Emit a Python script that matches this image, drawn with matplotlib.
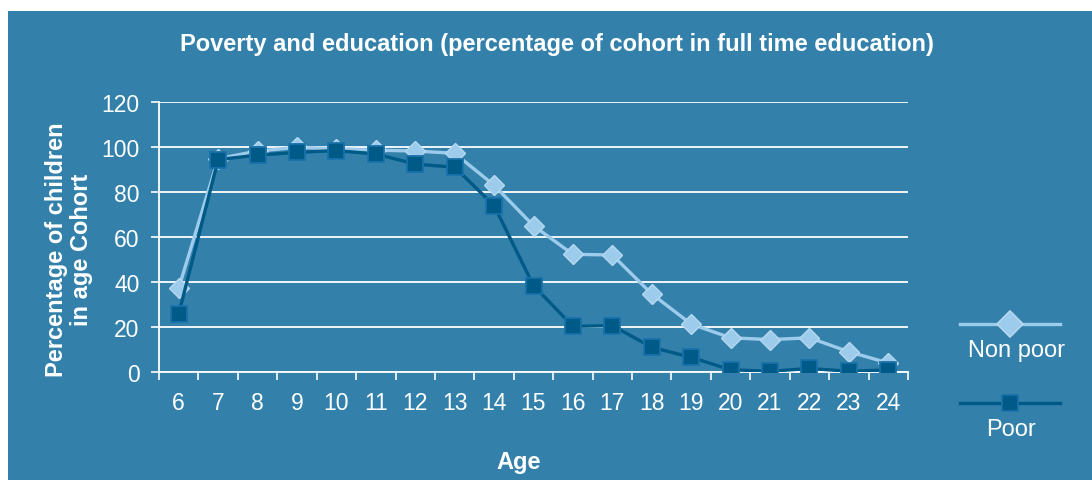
import matplotlib.pyplot as plt
from matplotlib.lines import Line2D
from matplotlib.patches import Rectangle
import numpy as np

plt.rcParams['font.family'] = ['Liberation Sans', 'DejaVu Sans']

ages = [6, 7, 8, 9, 10, 11, 12, 13, 14, 15, 16, 17, 18, 19, 20, 21, 22, 23, 24]
non_poor = [37.3, 94.8, 98.2, 99.8, 99.2, 98.6, 98.2, 97.2, 83, 65, 52.3, 52, 34.7, 21.3, 15.2, 14.4, 15.2, 9, 4]
poor = [25.8, 94.4, 96.4, 97.6, 98.4, 96.9, 92.4, 91, 74, 38.4, 20.3, 20.6, 11, 6.5, 1, 0.3, 1.6, 0.3, 0.9]
y_ticks = [0, 20, 40, 60, 80, 100, 120]

bg = '#3381ab'
light = '#9dcbeb'
dark = '#005a87'
dark_edge = '#1872aa'

fig = plt.figure(figsize=(10.92, 4.81), dpi=100)
fig.patch.set_facecolor('white')
fig.add_artist(Rectangle((8 / 1092, 0), 1, 1 - 12 / 481, transform=fig.transFigure,
                         facecolor=bg, edgecolor='none', zorder=-10))

ax = fig.add_axes([159 / 1092, 1 - 373 / 481, 749 / 1092, 270 / 481])
ax.set_facecolor(bg)
x = np.arange(len(ages))

ax.plot(x, non_poor, color=light, lw=2.4, marker='D', ms=10.5, mfc=light,
        mec='#b5d8f0', mew=1, zorder=3)
ax.plot(x, poor, color=dark, lw=2.4, marker='s', ms=11, mfc=dark,
        mec=dark_edge, mew=1.3, zorder=4)

ax.set_xlim(-0.5, len(ages) - 0.5)
ax.set_ylim(0, 120)
ax.set_yticks(y_ticks)
ax.set_yticklabels([str(v) for v in y_ticks], fontsize=16.5, color='white')
ax.set_xticks(x)
ax.set_xticklabels([str(a) for a in ages], fontsize=16.5, color='white')
ax.set_xticks(np.arange(-0.5, len(ages)), minor=True)
ax.tick_params(axis='x', which='major', length=0, pad=14)
ax.tick_params(axis='x', which='minor', length=6, width=1.2, color='white', direction='out')
ax.tick_params(axis='y', length=6, width=1.2, color='white', pad=8)
ax.grid(axis='y', color='white', lw=1.3, zorder=1)
for side in ['top', 'right']:
    ax.spines[side].set_visible(False)
for side in ['left', 'bottom']:
    ax.spines[side].set_color('white')
    ax.spines[side].set_linewidth(1.3)

fig.text(557 / 1092, 1 - 45 / 481, 'Poverty and education (percentage of cohort in full time education)',
         ha='center', va='center', fontsize=17, fontweight='bold', color='white')
fig.text(519 / 1092, 1 - 463 / 481, 'Age', ha='center', va='center',
         fontsize=17, fontweight='bold', color='white')
fig.text(69 / 1092, 1 - 250 / 481, 'Percentage of children\nin age Cohort', ha='center', va='center',
         rotation=90, fontsize=17, fontweight='bold', color='white', linespacing=1.15)

# legend drawn by hand on the right
def legend_entry(y_line, y_text, x_text, label, color, marker, mfc, mec):
    fig.add_artist(Line2D([960 / 1092, 1060 / 1092], [1 - y_line / 481] * 2, color=color, lw=2.4,
                          transform=fig.transFigure))
    fig.add_artist(Line2D([1010 / 1092], [1 - y_line / 481], marker=marker, ms=11 if marker == 's' else 13,
                          mfc=mfc, mec=mec, mew=1.2, transform=fig.transFigure))
    fig.text(x_text / 1092, 1 - y_text / 481, label, ha='center', va='center',
             fontsize=17, color='white')

legend_entry(325, 351, 1016, 'Non poor', light, 'D', light, '#b5d8f0')
legend_entry(404, 430, 1011, 'Poor', dark, 's', dark, dark_edge)

fig.savefig('out.png', dpi=100, facecolor=fig.get_facecolor())
